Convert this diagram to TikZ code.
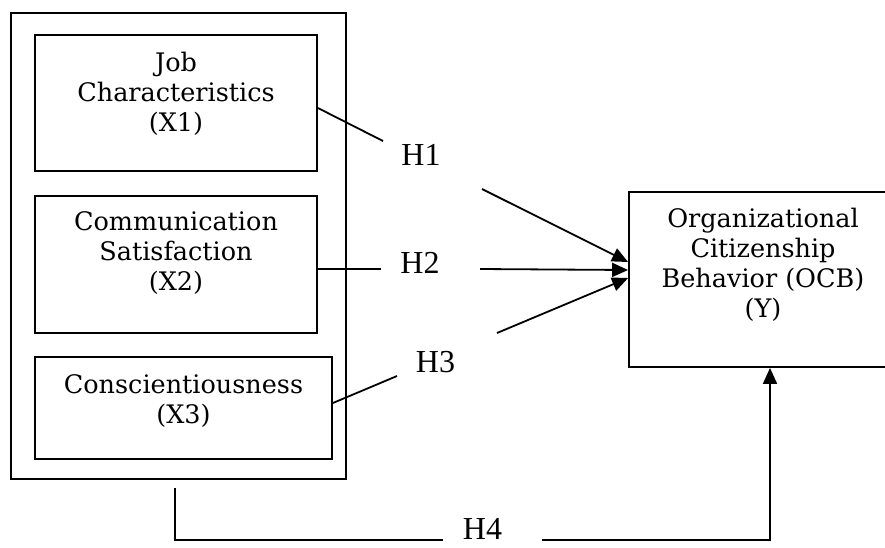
\documentclass[tikz,border=0pt]{standalone}
\usepackage{fontspec}
\setmainfont{DejaVu Serif}
\newfontfamily\hfont{Liberation Serif}
\usetikzlibrary{arrows.meta}
\tikzset{
  box/.style={draw, line width=1.8pt, inner sep=0pt},
  txt/.style={font=\fontsize{25.5}{30}\selectfont, align=center, anchor=north, inner sep=0pt},
  hyp/.style={font=\hfont\fontsize{32}{32}\selectfont, inner sep=0pt},
  conn/.style={line width=1.8pt},
  arr/.style={conn, -{Triangle[length=16pt,width=14pt]}}
}
\begin{document}
\begin{tikzpicture}[x=1pt,y=-1pt]
\useasboundingbox (0,0) rectangle (885,547);
% boxes
\node[box, minimum width=335pt, minimum height=466pt] (outer) at (178.5,246) {};
\node[box, minimum width=282pt, minimum height=136pt] (b1) at (176,103) {};
\node[box, minimum width=282pt, minimum height=137pt] (b2) at (176,264.5) {};
\node[box, minimum width=297pt, minimum height=102pt] (b3) at (183.5,408) {};
\node[box, minimum width=282pt, minimum height=175pt] (Y) at (770,279.5) {};
% texts
\node[txt] (t1) at (176,52) {Job\\Characteristics\\(X1)};
\node[txt] (t2) at (176,211) {Communication\\Satisfaction\\(X2)};
\node[txt] (t3) at (183.5,374) {Conscientiousness\\(X3)};
\node[txt] (tY) at (763,208) {Organizational\\Citizenship\\Behavior (OCB)\\(Y)};
% hypothesis labels
\node[hyp] (H1) at (421,155) {H1};
\node[hyp] (H2) at (420,262.5) {H2};
\node[hyp] (H3) at (435.5,362.5) {H3};
\node[hyp] (H4) at (482.5,529) {H4};
% connector end points
\coordinate (h1a) at (383,141);
\coordinate (h1b) at (482,189);
\coordinate (h2a) at (381,269);
\coordinate (h2b) at (480,269);
\coordinate (h3a) at (397,376);
\coordinate (h3b) at (497,333);
\coordinate (h4s) at (175,488);
\coordinate (h4a) at (443,540);
\coordinate (h4b) at (542,540);
% connectors
\draw[conn] ([yshift=-5pt]b1.east) -- (h1a);
\draw[arr] (h1b) -- ([yshift=17.5pt]Y.west);
\draw[conn] ([yshift=-4.5pt]b2.east) -- (h2a);
\draw[arr] (h2b) -- ([yshift=9.5pt]Y.west);
\draw[conn] ([yshift=5pt]b3.east) -- (h3a);
\draw[arr] (h3b) -- ([yshift=1.5pt]Y.west);
\draw[conn] (h4s) |- (h4a);
\draw[arr] (h4b) -| (Y.south);
\end{tikzpicture}
\end{document}
